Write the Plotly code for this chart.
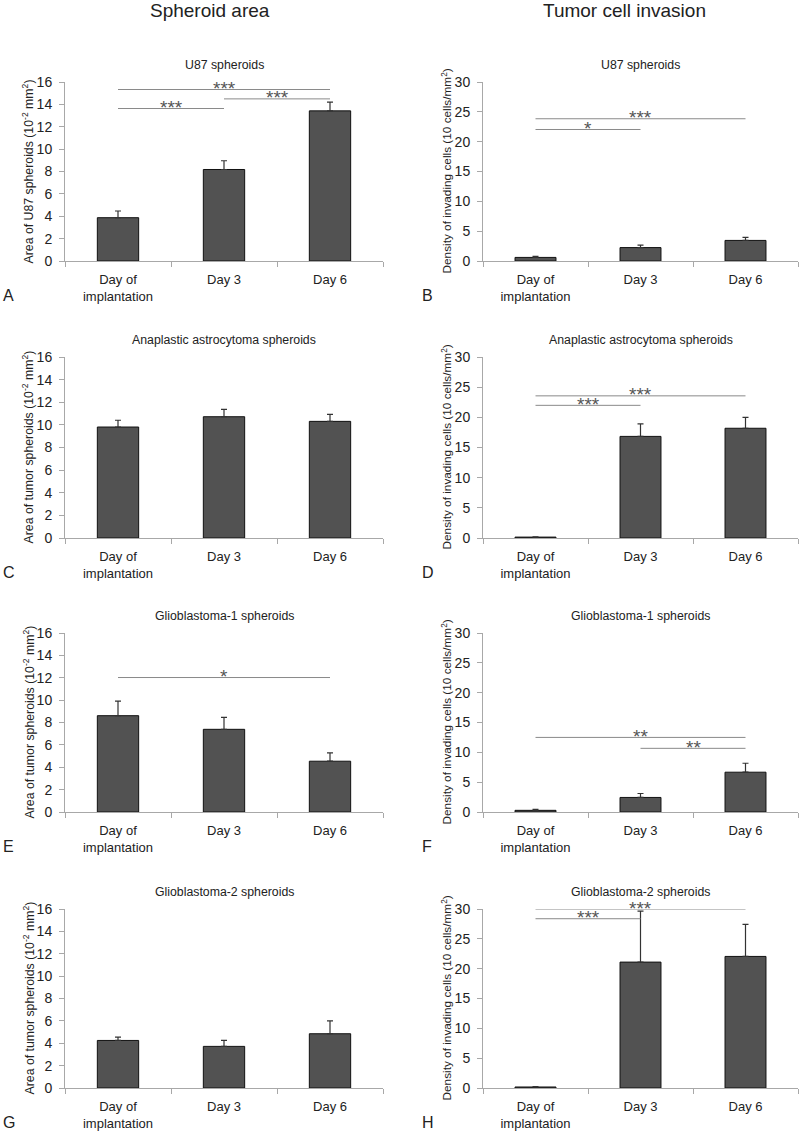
import plotly.graph_objects as go
from plotly.subplots import make_subplots

categories = ["Day of<br>implantation", "Day 3", "Day 6"]

# spheroid area (10^-2 mm^2), mean and upper error
area_u87 = [3.87, 8.18, 13.42]
area_u87_err = [0.6, 0.78, 0.78]
area_aa = [9.81, 10.72, 10.31]
area_aa_err = [0.6, 0.65, 0.62]
area_gb1 = [8.61, 7.39, 4.54]
area_gb1_err = [1.3, 1.07, 0.74]
area_gb2 = [4.25, 3.72, 4.85]
area_gb2_err = [0.3, 0.53, 1.15]

# invading cell density (10 cells/mm^2)
inv_u87 = [0.6, 2.25, 3.45]
inv_u87_err = [0.2, 0.4, 0.5]
inv_aa = [0.15, 16.84, 18.19]
inv_aa_err = [0.05, 2.06, 1.79]
inv_gb1 = [0.28, 2.44, 6.67]
inv_gb1_err = [0.16, 0.66, 1.5]
inv_gb2 = [0.17, 21.1, 22.05]
inv_gb2_err = [0.05, 8.56, 5.37]

titles = ["U87 spheroids", "Anaplastic astrocytoma spheroids",
          "Glioblastoma-1 spheroids", "Glioblastoma-2 spheroids"]
letters = ["A", "B", "C", "D", "E", "F", "G", "H"]

area_titles = ["Area of U87 spheroids (10<sup>-2</sup> mm<sup>2</sup>)"] + \
              ["Area of tumor spheroids (10<sup>-2</sup> mm<sup>2</sup>)"] * 3
inv_title = "Density of invading cells (10 cells/mm<sup>2</sup>)"

# significance brackets: (row, col, from, to, y, label)
brackets = [
    (1, 1, 0, 2, 15.33, "***"), (1, 1, 1, 2, 14.49, "***"), (1, 1, 0, 1, 13.63, "***"),
    (1, 2, 0, 2, 23.84, "***"), (1, 2, 0, 1, 22.04, "*"),
    (2, 2, 0, 2, 23.56, "***"), (2, 2, 0, 1, 21.99, "***"),
    (3, 1, 0, 2, 12.02, "*"),
    (3, 2, 0, 2, 12.5, "**"), (3, 2, 1, 2, 10.67, "**"),
    (4, 2, 0, 2, 30.0, "***"), (4, 2, 0, 1, 28.37, "***"),
]

left_vals = [(area_u87, area_u87_err), (area_aa, area_aa_err),
             (area_gb1, area_gb1_err), (area_gb2, area_gb2_err)]
right_vals = [(inv_u87, inv_u87_err), (inv_aa, inv_aa_err),
              (inv_gb1, inv_gb1_err), (inv_gb2, inv_gb2_err)]

W, H = 800, 1132
FONT = "Liberation Sans"


def px(x):
    return x / W


def py(y):
    return 1 - y / H


fig = make_subplots(rows=4, cols=2)

# pixel geometry of the plot areas
rows_px = [(82, 261), (357, 538), (633, 812), (909, 1088)]
cols_px = [(65, 383), (483, 798)]
ytitle_x = [28, 447]

for r in range(4):
    for c in range(2):
        vals, err = (left_vals if c == 0 else right_vals)[r]
        fig.add_trace(go.Bar(
            x=categories, y=vals, width=0.39,
            marker=dict(color="#525252", line=dict(color="#111111", width=1)),
            error_y=dict(type="data", array=err, arrayminus=[0, 0, 0], symmetric=False,
                         color="#333333", thickness=1.2, width=3),
            showlegend=False,
        ), row=r + 1, col=c + 1)
        top, bot = rows_px[r]
        x0, x1 = cols_px[c]
        n = r * 2 + c + 1
        xa = "xaxis" if n == 1 else f"xaxis{n}"
        ya = "yaxis" if n == 1 else f"yaxis{n}"
        fig.layout[xa].update(domain=[px(x0), px(x1)])
        fig.layout[ya].update(domain=[py(bot), py(top)])
        fig.update_xaxes(
            row=r + 1, col=c + 1, range=[-0.5, 2.5], showline=True, linecolor="#a8a8a8",
            linewidth=1, ticks="outside", tickson="boundaries", ticklen=5, tickcolor="#a8a8a8",
            showgrid=False, tickfont=dict(size=13, color="#222"), fixedrange=True,
            automargin=False, ticklabelstandoff=6)
        fig.update_yaxes(
            row=r + 1, col=c + 1,
            range=[0, 16] if c == 0 else [0, 30], dtick=2 if c == 0 else 5,
            showline=True, linecolor="#a8a8a8", linewidth=1, ticks="outside",
            ticklen=5, tickcolor="#a8a8a8", showgrid=False, zeroline=False,
            tickfont=dict(size=14, color="#222"), automargin=False, ticklabelstandoff=4)
        # y-axis title
        fig.add_annotation(text=area_titles[r] if c == 0 else inv_title,
                           x=px(ytitle_x[c]), y=py((top + bot) / 2), textangle=-90,
                           xref="paper", yref="paper", showarrow=False,
                           xanchor="center", yanchor="middle",
                           font=dict(size=12.3 if c == 0 else 11.8, color="#222"))
        # subplot title
        fig.add_annotation(text=titles[r], x=px((x0 + x1) / 2), y=py(top - 17),
                           xref="paper", yref="paper", showarrow=False,
                           font=dict(size=12.3, color="#222"),
                           xanchor="center", yanchor="middle")
        # panel letter
        fig.add_annotation(text=letters[n - 1], x=px(1 if c == 0 else 420),
                           y=py(bot + 34), xref="paper", yref="paper",
                           showarrow=False, xanchor="left", yanchor="middle",
                           font=dict(size=16, color="#222"))

for r, c, a, b, y, lab in brackets:
    n = (r - 1) * 2 + c
    xr = "x" if n == 1 else f"x{n}"
    yr = "y" if n == 1 else f"y{n}"
    fig.add_shape(type="line", xref=xr, yref=yr, x0=a, x1=b, y0=y, y1=y,
                  line=dict(color="#8a8a8a", width=1))
    fig.add_annotation(text=lab, x=(a + b) / 2, y=y, xref=xr, yref=yr,
                       showarrow=False, xanchor="center", yanchor="middle", yshift=1,
                       font=dict(size=19, color="#555"))

# column headers
fig.add_annotation(text="Spheroid area", x=px(210), y=py(11), xref="paper",
                   yref="paper", showarrow=False, xanchor="center", yanchor="middle",
                   font=dict(size=19, color="#222"))
fig.add_annotation(text="Tumor cell invasion", x=px(624), y=py(11), xref="paper",
                   yref="paper", showarrow=False, xanchor="center", yanchor="middle",
                   font=dict(size=19, color="#222"))

fig.update_layout(
    width=W, height=H, margin=dict(l=0, r=0, t=0, b=0, autoexpand=False),
    paper_bgcolor="white", plot_bgcolor="white",
    font=dict(family=FONT, color="#222"), bargap=0.6,
)

# drop the default page margin so the figure fills the window exactly
fig.write_html("out.html", config={"displayModeBar": False},
               post_script="document.body.style.margin='0px';")
